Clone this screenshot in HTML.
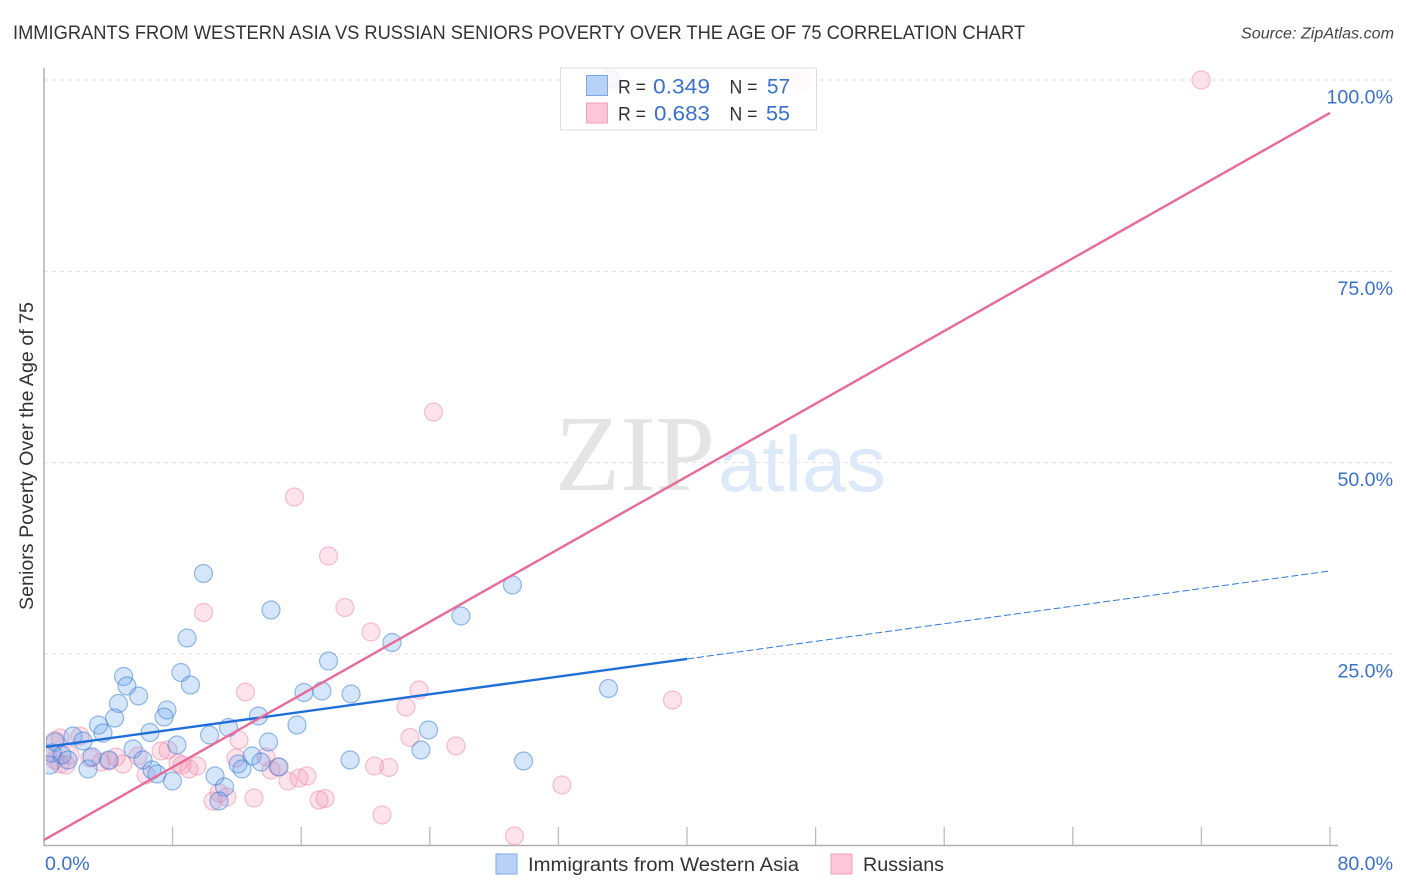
<!DOCTYPE html>
<html lang="en">
<head>
<meta charset="utf-8">
<title>Immigrants from Western Asia vs Russian Seniors Poverty Over the Age of 75 Correlation Chart</title>
<style>
html,body{margin:0;padding:0;background:#fff;width:1406px;height:892px;overflow:hidden}
svg{display:block}
text{font-family:"Liberation Sans",sans-serif}
</style>
</head>
<body>
<svg id="chart" width="1406" height="892" viewBox="0 0 1406 892" xmlns="http://www.w3.org/2000/svg">
  <defs><clipPath id="plot-clip"><rect x="46" y="60" width="1360" height="785"/></clipPath></defs>
  <text x="13" y="39" font-size="19" fill="#333" textLength="1012" lengthAdjust="spacingAndGlyphs">IMMIGRANTS FROM WESTERN ASIA VS RUSSIAN SENIORS POVERTY OVER THE AGE OF 75 CORRELATION CHART</text>
  <text x="1241" y="38.5" font-size="15.5" font-style="italic" fill="#444" textLength="153" lengthAdjust="spacingAndGlyphs">Source: ZipAtlas.com</text>
  <g id="grid"></g>
  <g>
    <text x="555" y="490" font-size="108" fill="#e4e4e4" style="font-family:'Liberation Serif',serif" textLength="160" lengthAdjust="spacingAndGlyphs">ZIP</text>
    <text x="718" y="491" font-size="79" fill="#dde9f8" textLength="168" lengthAdjust="spacingAndGlyphs">atlas</text>
  </g>
  <g id="axes"></g>
  <g id="points" clip-path="url(#plot-clip)"></g>
  <g id="trends"></g>
  <g id="tick-labels"></g>
  <text transform="translate(33,456) rotate(-90)" font-size="19" fill="#333" text-anchor="middle" textLength="308" lengthAdjust="spacingAndGlyphs">Seniors Poverty Over the Age of 75</text>

  <g>
    <rect x="560.5" y="68" width="256" height="62" fill="#fff" fill-opacity="0.85" stroke="#ddd" stroke-width="1"/>
    <rect x="586.5" y="75.5" width="21" height="20" fill="#b7d2f6" stroke="#7aa8e6"/>
    <rect x="586.5" y="103" width="21" height="20" fill="#fcc8d8" stroke="#f2a0bb"/>
    <text x="618" y="93.5" font-size="19" fill="#333" textLength="28" lengthAdjust="spacingAndGlyphs">R =</text>
    <text x="653" y="93.5" font-size="21" fill="#3a70cf" textLength="57" lengthAdjust="spacingAndGlyphs">0.349</text>
    <text x="729.5" y="93.5" font-size="19" fill="#333" textLength="28" lengthAdjust="spacingAndGlyphs">N =</text>
    <text x="767" y="93.5" font-size="21" fill="#3a70cf" textLength="23" lengthAdjust="spacingAndGlyphs">57</text>
    <text x="618" y="120.5" font-size="19" fill="#333" textLength="28" lengthAdjust="spacingAndGlyphs">R =</text>
    <text x="654" y="120.5" font-size="21" fill="#3a70cf" textLength="56" lengthAdjust="spacingAndGlyphs">0.683</text>
    <text x="729.5" y="120.5" font-size="19" fill="#333" textLength="28" lengthAdjust="spacingAndGlyphs">N =</text>
    <text x="766" y="120.5" font-size="21" fill="#3a70cf" textLength="24" lengthAdjust="spacingAndGlyphs">55</text>
  </g>

  <g>
    <rect x="496" y="854" width="21" height="20" fill="#b7d2f6" stroke="#7aa8e6"/>
    <text x="528" y="871" font-size="19" fill="#333" textLength="271" lengthAdjust="spacingAndGlyphs">Immigrants from Western Asia</text>
    <rect x="831" y="854" width="21" height="20" fill="#fcc8d8" stroke="#f2a0bb"/>
    <text x="863" y="871" font-size="19" fill="#333" textLength="81" lengthAdjust="spacingAndGlyphs">Russians</text>
  </g>
</svg>
<script>
var xTickValues = [0, 8, 16, 24, 32, 40, 48, 56, 64, 72, 80];
var yTickValues = [25, 50, 75, 100];
var xTickLabels = ["0.0%", "80.0%"];
var yTickLabels = ["25.0%", "50.0%", "75.0%", "100.0%"];

var immigrantsX = [9.92,14.12,8.90,21.65,25.94,29.14,17.70,4.95,8.52,5.16,9.11,5.88,4.63,7.65,7.47,4.39,3.39,3.67,6.59,1.80,2.43,8.27,10.30,11.48,13.34,15.74,16.17,17.29,19.10,35.12,23.92,23.45,13.97,5.54,12.94,6.16,6.72,7.03,7.99,10.64,11.23,10.89,12.07,12.32,13.50,14.62,19.04,29.83,2.74,2.99,4.04,0.68,0.50,1.12,1.49,0.37,35.20];
var immigrantsY = [35.52,30.75,27.09,26.50,29.96,34.01,24.08,22.06,22.58,20.82,20.95,19.51,18.53,17.68,16.76,16.63,15.72,14.67,14.74,14.28,13.63,13.11,14.41,15.39,16.90,15.72,19.97,20.16,19.77,20.49,15.07,12.45,13.50,12.58,11.67,11.15,9.84,9.32,8.40,9.06,7.62,5.79,10.62,9.97,10.88,10.23,11.15,11.02,9.97,11.54,11.15,13.50,12.06,11.80,11.15,10.49,100.2];

var russiansX = [71.98,47.15,35.33,24.23,15.58,17.70,9.92,18.72,20.34,12.53,23.33,39.10,22.52,22.77,25.63,12.13,11.94,13.81,14.12,14.56,15.18,15.86,16.36,20.56,21.46,32.22,21.03,29.27,13.06,17.11,17.48,10.51,11.38,10.89,9.52,9.02,8.34,8.58,7.71,7.28,6.35,5.85,4.91,4.48,3.55,4.04,2.86,2.24,1.00,0.68,0.68,1.00,1.37,0.19,1.62];
var russiansY = [100,100,100,56.62,45.51,37.80,30.42,31.07,27.87,20.03,20.29,18.99,18.07,14.09,12.98,13.76,11.41,11.54,9.84,10.23,8.40,8.79,9.06,10.36,10.17,7.88,3.96,1.22,6.18,5.92,6.12,5.79,6.31,6.83,10.36,9.97,10.75,10.49,12.45,12.32,9.20,11.67,10.62,11.54,10.88,11.02,11.41,14.28,14.02,13.70,11.15,10.62,10.49,11.80,11.80];

var immigrantsTrendX = [0, 40, 80];
var immigrantsTrendY = [12.85, 24.35, 35.85];
var russiansTrendX = [0, 80];
var russiansTrendY = [0.7, 95.7];

function xScale(v) { return 44 + v * 16.075; }
function yScale(v) { return 845.3 - v * 7.653; }

var NS = 'http://www.w3.org/2000/svg';
function make(tag, attrs, parent) {
  var el = document.createElementNS(NS, tag);
  for (var k in attrs) { el.setAttribute(k, attrs[k]); }
  parent.appendChild(el);
  return el;
}

var gridG = document.getElementById('grid');
var axesG = document.getElementById('axes');
var labelsG = document.getElementById('tick-labels');
var pointsG = document.getElementById('points');
var trendsG = document.getElementById('trends');

yTickValues.forEach(function (v, i) {
  var line = make('line', {x1: 44, x2: 1394, y1: yScale(v), y2: yScale(v), stroke: '#e0e0e0', 'stroke-width': 1, 'stroke-dasharray': '4 4'}, gridG);
  
  
  var label = make('text', {x: 1393, y: yScale(v) + 23.5, 'font-size': 19.6, fill: '#3a70cf', 'text-anchor': 'end'}, labelsG);
  label.textContent = yTickLabels[i];
  
  
});

var yAxis = make('line', {x1: 44, x2: 44, y1: 68, y2: 846, stroke: '#b0b0b0', 'stroke-width': 1.5}, axesG);


var xAxis = make('line', {x1: 44, x2: 1338, y1: 845.5, y2: 845.5, stroke: '#b0b0b0', 'stroke-width': 1.5}, axesG);



xTickValues.forEach(function (v) {
  if (v === 0) { return; }
  var t = make('line', {x1: xScale(v), x2: xScale(v), y1: 827, y2: 845, stroke: '#bcbcbc', 'stroke-width': 1.3}, axesG);
  
  
});

var xLabelLeft = make('text', {x: 45, y: 870, 'font-size': 19.6, fill: '#3a70cf'}, labelsG);
xLabelLeft.textContent = xTickLabels[0];


var xLabelRight = make('text', {x: 1393, y: 870, 'font-size': 19.6, fill: '#3a70cf', 'text-anchor': 'end'}, labelsG);
xLabelRight.textContent = xTickLabels[1];



russiansX.forEach(function (v, i) {
  var c = make('circle', {cx: xScale(v), cy: yScale(russiansY[i]), r: 9, fill: '#f78fb0', 'fill-opacity': 0.25, stroke: '#ee86a8', 'stroke-opacity': 0.5, 'stroke-width': 1.2}, pointsG);
  
  
});
immigrantsX.forEach(function (v, i) {
  var c = make('circle', {cx: xScale(v), cy: yScale(immigrantsY[i]), r: 9, fill: '#6aa5ec', 'fill-opacity': 0.28, stroke: '#2f78d8', 'stroke-opacity': 0.5, 'stroke-width': 1.2}, pointsG);
  
  
});

var blueSolid = make('line', {x1: xScale(immigrantsTrendX[0]) + 2, y1: yScale(immigrantsTrendY[0]), x2: xScale(immigrantsTrendX[1]), y2: yScale(immigrantsTrendY[1]), stroke: '#1f6fd8', 'stroke-width': 2.4}, trendsG);


var blueDash = make('line', {x1: xScale(immigrantsTrendX[1]), y1: yScale(immigrantsTrendY[1]), x2: xScale(immigrantsTrendX[2]), y2: yScale(immigrantsTrendY[2]), stroke: '#2f78d8', 'stroke-width': 1, 'stroke-dasharray': '7 3'}, trendsG);


var pinkLine = make('line', {x1: xScale(russiansTrendX[0]), y1: yScale(russiansTrendY[0]), x2: xScale(russiansTrendX[1]), y2: yScale(russiansTrendY[1]), stroke: '#e96a98', 'stroke-width': 2.4}, trendsG);


</script>
</body>
</html>
